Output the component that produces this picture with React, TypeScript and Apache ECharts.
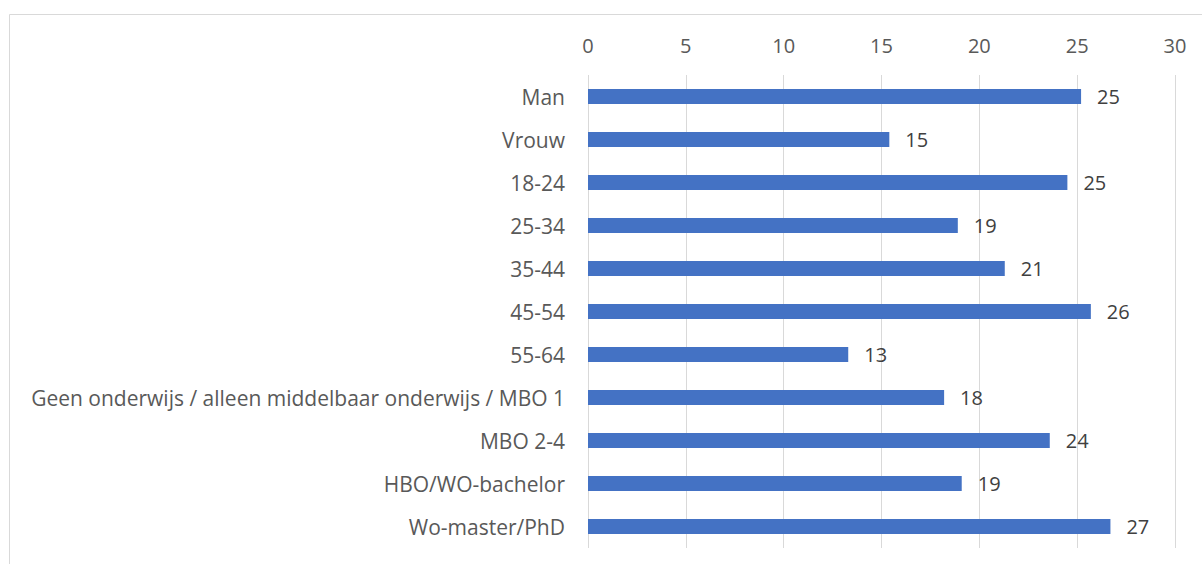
import React, { useEffect, useRef } from "react";
import * as echarts from "echarts";

const categories = [
  "Man",
  "Vrouw",
  "18-24",
  "25-34",
  "35-44",
  "45-54",
  "55-64",
  "Geen onderwijs / alleen middelbaar onderwijs / MBO 1",
  "MBO 2-4",
  "HBO/WO-bachelor",
  "Wo-master/PhD",
];
const values = [25.2, 15.4, 24.5, 18.9, 21.3, 25.7, 13.3, 18.2, 23.6, 19.1, 26.7];
const xTicks = { min: 0, max: 30, interval: 5 };

export default function App() {
  const ref = useRef<HTMLDivElement>(null);
  useEffect(() => {
    if (!ref.current) return;
    const chart = echarts.init(ref.current, undefined, { renderer: "svg" });
    chart.setOption({
      animation: false,
      backgroundColor: "#ffffff",
      graphic: [
        {
          type: "rect",
          shape: { x: 9.5, y: 14.5, width: 1300, height: 700 },
          style: { fill: "none", stroke: "#d9d9d9", lineWidth: 1 },
          silent: true,
        },
      ],
      grid: { left: 588, top: 75, width: 587, height: 473, containLabel: false },
      xAxis: {
        type: "value",
        position: "top",
        min: xTicks.min,
        max: xTicks.max,
        interval: xTicks.interval,
        axisLine: { show: false },
        axisTick: { show: false },
        axisLabel: { color: "#595959", fontSize: 20, fontFamily: "Open Sans", margin: 20 },
        splitLine: { show: true, lineStyle: { color: "#d9d9d9", width: 1 } },
      },
      yAxis: {
        type: "category",
        inverse: true,
        data: categories,
        axisLine: { show: false },
        axisTick: { show: false },
        axisLabel: { color: "#595959", fontSize: 21, fontFamily: "Open Sans", margin: 23 },
      },
      series: [
        {
          type: "bar",
          data: values,
          barWidth: 15,
          itemStyle: { color: "#4472c4" },
          label: {
            show: true,
            position: "right",
            distance: 16,
            color: "#404040",
            fontSize: 20,
            fontFamily: "Open Sans",
            formatter: (p: any) => String(Math.round(p.value)),
          },
        },
      ],
    });
    return () => chart.dispose();
  }, []);
  return (
    <div
      ref={ref}
      style={{ position: "absolute", left: 0, top: 0, width: 1202, height: 564 }}
    />
  );
}
